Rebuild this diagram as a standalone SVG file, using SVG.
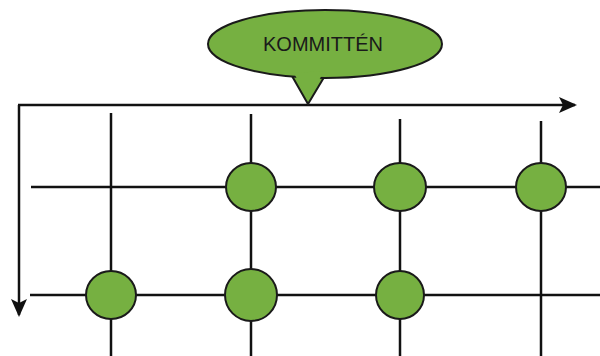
<svg xmlns="http://www.w3.org/2000/svg" width="600" height="356" viewBox="0 0 600 356">
<defs>
<style>
.ln{stroke:#111;stroke-width:2.5;fill:none}
.nd{fill:#76b041;stroke:#1a1a1a;stroke-width:2}
.lbl{font-family:"Liberation Sans",Arial,sans-serif;font-size:20px;fill:#1a1a1a;text-anchor:middle}
</style>
<marker id="ah" markerWidth="10" markerHeight="10" refX="8" refY="5" orient="auto" markerUnits="userSpaceOnUse" viewBox="0 0 10 10">
<path d="M0,0 L10,5 L0,10 L3,5 Z" fill="#111"/>
</marker>
<marker id="ah2" markerWidth="18" markerHeight="18" refX="16" refY="9" orient="auto" markerUnits="userSpaceOnUse" viewBox="0 0 18 18">
<path d="M0,1 L18,9 L0,17 L4,9 Z" fill="#111"/>
</marker>
</defs>
<g id="connectors">
<line class="ln" x1="18" y1="105" x2="575" y2="105" marker-end="url(#ah2)"/>
<line class="ln" x1="19" y1="105" x2="19" y2="315" marker-end="url(#ah2)"/>
<line class="ln" x1="111" y1="113" x2="111" y2="356"/>
<line class="ln" x1="251" y1="114" x2="251" y2="356"/>
<line class="ln" x1="400" y1="119" x2="400" y2="356"/>
<line class="ln" x1="541" y1="121" x2="541" y2="356"/>
<line class="ln" x1="31" y1="187" x2="600" y2="187"/>
<line class="ln" x1="30" y1="295" x2="600" y2="295"/>
</g>
<g id="bubble">
<path class="nd" d="M292,76 L308,104 L326,74"/>
<ellipse class="nd" cx="325" cy="44" rx="117" ry="34"/>
<path d="M294,73 L308,101 L324,71 Z" fill="#76b041"/>
<text class="lbl" x="323" y="51">KOMMITTÉN</text>
</g>
<g id="n1"><ellipse class="nd" cx="251" cy="187" rx="25" ry="24"/></g>
<g id="n2"><ellipse class="nd" cx="400" cy="187" rx="26" ry="24"/></g>
<g id="n3"><ellipse class="nd" cx="541" cy="187" rx="25" ry="24"/></g>
<g id="n4"><ellipse class="nd" cx="111" cy="295" rx="25" ry="24"/></g>
<g id="n5"><ellipse class="nd" cx="251" cy="295" rx="26" ry="26"/></g>
<g id="n6"><ellipse class="nd" cx="400" cy="295" rx="24" ry="24"/></g>
</svg>
